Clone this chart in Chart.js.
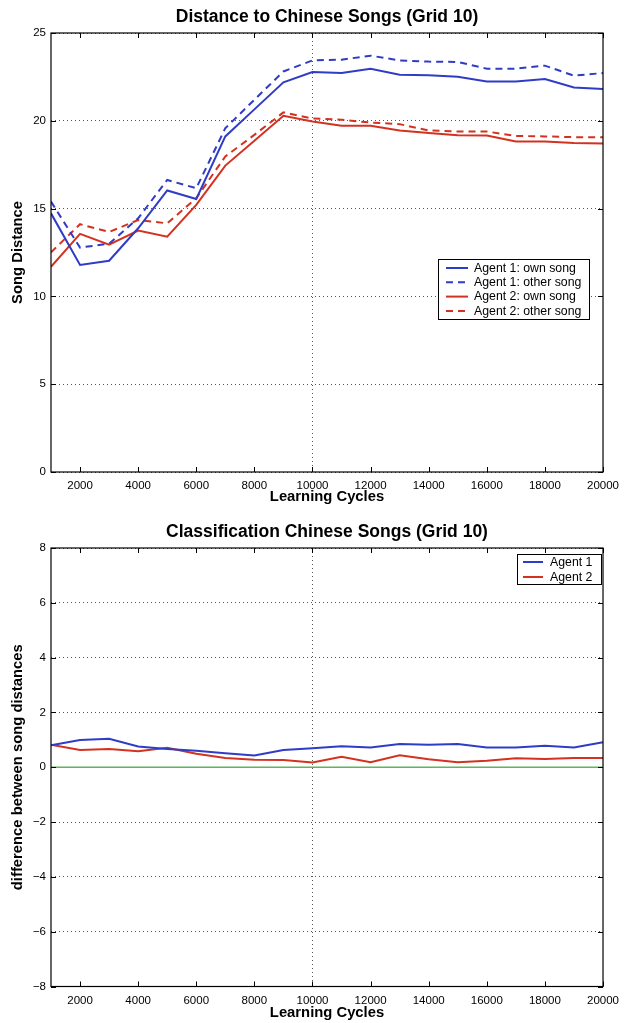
<!DOCTYPE html>
<html>
<head>
<meta charset="utf-8">
<script src="https://cdn.jsdelivr.net/npm/chart.js@4.4.1/dist/chart.umd.min.js"></script>
<style>
  html, body { margin: 0; padding: 0; background: #ffffff; }
  #wrap { position: relative; width: 626px; height: 1023px; overflow: hidden; }
  canvas { position: absolute; left: 0; }
  #distChart { top: 0; }
  #classChart { top: 512px; }
</style>
</head>
<body>
<div id="wrap">
  <canvas id="distChart" width="626" height="512"></canvas>
  <canvas id="classChart" width="626" height="511"></canvas>
</div>
<script>
// Learning cycles on the x axis
const cycles = [1000, 2000, 3000, 4000, 5000, 6000, 7000, 8000, 9000, 10000,
                11000, 12000, 13000, 14000, 15000, 16000, 17000, 18000, 19000, 20000];
const xTicks = [2000, 4000, 6000, 8000, 10000, 12000, 14000, 16000, 18000, 20000];

// Song distances
const agent1Own   = [14.73, 11.79, 12.03, 13.88, 16.03, 15.55, 19.11, 20.65, 22.19, 22.78,
                     22.72, 22.97, 22.62, 22.59, 22.51, 22.24, 22.24, 22.38, 21.90, 21.81];
const agent1Other = [15.40, 12.78, 13.00, 14.45, 16.63, 16.16, 19.58, 21.20, 22.81, 23.44,
                     23.48, 23.71, 23.44, 23.37, 23.35, 22.97, 22.97, 23.14, 22.57, 22.72];
const agent2Own   = [11.69, 13.56, 12.95, 13.75, 13.40, 15.21, 17.45, 18.86, 20.29, 19.96,
                     19.72, 19.72, 19.45, 19.30, 19.18, 19.16, 18.82, 18.82, 18.73, 18.71];
const agent2Other = [12.51, 14.11, 13.67, 14.35, 14.16, 15.59, 17.97, 19.20, 20.48, 20.13,
                     20.06, 19.90, 19.81, 19.45, 19.39, 19.39, 19.14, 19.11, 19.07, 19.07];
const distTicks = [0, 5, 10, 15, 20, 25];

// Difference between song distances (classification)
const diffAgent1 = [0.80, 0.99, 1.04, 0.76, 0.67, 0.60, 0.51, 0.43, 0.63, 0.69,
                    0.77, 0.72, 0.85, 0.82, 0.85, 0.72, 0.72, 0.78, 0.72, 0.91];
const diffAgent2 = [0.82, 0.63, 0.67, 0.58, 0.71, 0.49, 0.34, 0.27, 0.26, 0.17,
                    0.38, 0.18, 0.44, 0.29, 0.18, 0.24, 0.33, 0.30, 0.34, 0.34];
const zeroCycles = [1000, 20000];
const zeroLine   = [0, 0];
const diffTicks = [-8, -6, -4, -2, 0, 2, 4, 6, 8];

const FONT = "'Liberation Sans', Arial, Helvetica, sans-serif";
const BLUE = '#2f3cc6';
const RED = '#d2321f';
const GREEN = '#5db55d';
const GRID = '#555555';

const pts = (xs, ys) => xs.map((x, i) => ({ x: x, y: ys[i] }));
const fmt = v => (v < 0 ? '\u2212' + Math.abs(v) : String(v));

// Box, inward tick marks, titles and legend
const decorPlugin = {
  id: 'decor',
  afterDatasetsDraw(chart, args, opts) {
    const { ctx, chartArea: a, scales } = chart;
    ctx.save();
    ctx.strokeStyle = '#000';
    ctx.lineWidth = 1.2;
    ctx.strokeRect(a.left, a.top, a.right - a.left, a.bottom - a.top);
    ctx.lineWidth = 1;
    const tl = 5;
    ctx.beginPath();
    scales.x.ticks.forEach(t => {
      const px = Math.round(scales.x.getPixelForValue(t.value)) + 0.5;
      ctx.moveTo(px, a.bottom); ctx.lineTo(px, a.bottom - tl);
      ctx.moveTo(px, a.top); ctx.lineTo(px, a.top + tl);
    });
    scales.y.ticks.forEach(t => {
      const py = Math.round(scales.y.getPixelForValue(t.value)) + 0.5;
      ctx.moveTo(a.left, py); ctx.lineTo(a.left + tl, py);
      ctx.moveTo(a.right, py); ctx.lineTo(a.right - tl, py);
    });
    ctx.stroke();
    ctx.restore();
  },
  afterDraw(chart, args, opts) {
    const { ctx, chartArea: a } = chart;
    ctx.save();
    ctx.fillStyle = '#000';
    ctx.textAlign = 'center';
    ctx.textBaseline = 'middle';
    ctx.font = 'bold 17.5px ' + FONT;
    ctx.fillText(opts.title, (a.left + a.right) / 2, opts.titleY);
    ctx.font = 'bold 14.8px ' + FONT;
    ctx.fillText(opts.xLabel, (a.left + a.right) / 2, opts.xLabelY);
    ctx.save();
    ctx.translate(opts.yLabelX, (a.top + a.bottom) / 2);
    ctx.rotate(-Math.PI / 2);
    ctx.fillText(opts.yLabel, 0, 0);
    ctx.restore();

    // legend
    const lg = opts.legend;
    const items = chart.data.datasets.filter(d => d.label);
    ctx.fillStyle = '#fff';
    ctx.fillRect(lg.x, lg.y, lg.w, lg.h);
    ctx.strokeStyle = '#000';
    ctx.lineWidth = 1;
    ctx.strokeRect(lg.x + 0.5, lg.y + 0.5, lg.w, lg.h);
    ctx.font = '12.3px ' + FONT;
    ctx.textAlign = 'left';
    items.forEach((d, i) => {
      const yy = lg.y + lg.first + i * lg.step;
      ctx.strokeStyle = d.borderColor;
      ctx.lineWidth = 2;
      ctx.setLineDash(d.borderDash || []);
      ctx.beginPath();
      ctx.moveTo(lg.x + lg.sx0, yy);
      ctx.lineTo(lg.x + lg.sx1, yy);
      ctx.stroke();
      ctx.setLineDash([]);
      ctx.fillStyle = '#000';
      ctx.fillText(d.label, lg.x + lg.tx, yy + 0.5);
    });
    ctx.restore();
  }
};

function makeOptions(cfg) {
  return {
    responsive: false,
    animation: false,
    layout: { padding: { left: 0, right: 19, top: cfg.padTop, bottom: 0 } },
    elements: { point: { radius: 0 }, line: { tension: 0, borderWidth: 2 } },
    plugins: {
      legend: { display: false },
      tooltip: { enabled: false },
      title: { display: false },
      decor: cfg.decor
    },
    scales: {
      x: {
        type: 'linear',
        min: 1000, max: 20000,
        afterFit(s) { s.height = cfg.xAxisHeight; },
        afterBuildTicks(s) { s.ticks = xTicks.map(v => ({ value: v })); },
        ticks: { padding: 7, color: '#000', font: { family: FONT, size: 11.5 },
                 maxRotation: 0, autoSkip: false, callback: v => fmt(v) },
        grid: { drawTicks: false, lineWidth: 1,
                color: c => (c.tick && c.tick.value === 10000 ? GRID : 'rgba(0,0,0,0)') },
        border: { display: false, dash: [1, 3] }
      },
      y: {
        type: 'linear',
        min: cfg.yTicks[0], max: cfg.yTicks[cfg.yTicks.length - 1],
        afterFit(s) { s.width = 51; },
        afterBuildTicks(s) { s.ticks = cfg.yTicks.map(v => ({ value: v })); },
        ticks: { padding: 5, color: '#000', font: { family: FONT, size: 11.5 },
                 autoSkip: false, callback: v => fmt(v) },
        grid: { drawTicks: false, lineWidth: 1, color: GRID },
        border: { display: false, dash: [1, 3] }
      }
    }
  };
}

new Chart(document.getElementById('distChart'), {
  type: 'line',
  data: {
    datasets: [
      { label: 'Agent 1: own song',   data: pts(cycles, agent1Own),   borderColor: BLUE, backgroundColor: BLUE },
      { label: 'Agent 1: other song', data: pts(cycles, agent1Other), borderColor: BLUE, backgroundColor: BLUE, borderDash: [7, 5] },
      { label: 'Agent 2: own song',   data: pts(cycles, agent2Own),   borderColor: RED,  backgroundColor: RED },
      { label: 'Agent 2: other song', data: pts(cycles, agent2Other), borderColor: RED,  backgroundColor: RED,  borderDash: [7, 5] }
    ]
  },
  options: makeOptions({
    padTop: 33, xAxisHeight: 40, yTicks: distTicks,
    decor: {
      title: 'Distance to Chinese Songs (Grid 10)', titleY: 17,
      xLabel: 'Learning Cycles', xLabelY: 497,
      yLabel: 'Song Distance', yLabelX: 18,
      legend: { x: 438, y: 259, w: 151, h: 60, first: 9, step: 14.3, sx0: 8, sx1: 30, tx: 36 }
    }
  }),
  plugins: [decorPlugin]
});

new Chart(document.getElementById('classChart'), {
  type: 'line',
  data: {
    datasets: [
      { data: pts(zeroCycles, zeroLine), borderColor: GREEN, backgroundColor: GREEN, borderWidth: 1.5 },
      { label: 'Agent 1', data: pts(cycles, diffAgent1), borderColor: BLUE, backgroundColor: BLUE },
      { label: 'Agent 2', data: pts(cycles, diffAgent2), borderColor: RED,  backgroundColor: RED }
    ]
  },
  options: makeOptions({
    padTop: 36, xAxisHeight: 36.5, yTicks: diffTicks,
    decor: {
      title: 'Classification Chinese Songs (Grid 10)', titleY: 20,
      xLabel: 'Learning Cycles', xLabelY: 501,
      yLabel: 'difference between song distances', yLabelX: 18,
      legend: { x: 517, y: 42, w: 84, h: 30, first: 8, step: 15, sx0: 6, sx1: 26, tx: 33 }
    }
  }),
  plugins: [decorPlugin]
});
</script>
</body>
</html>
